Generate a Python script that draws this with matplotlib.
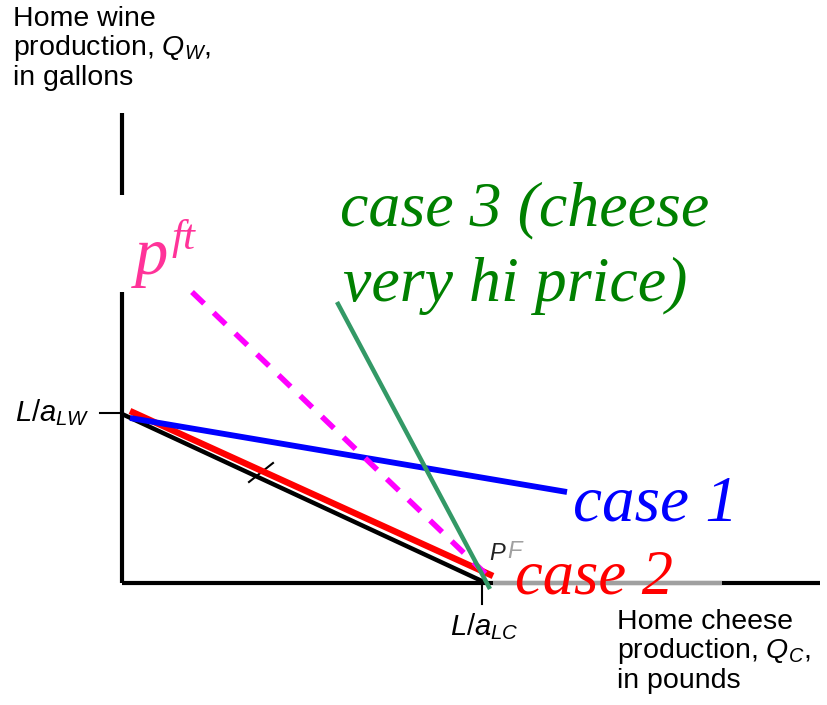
import matplotlib
matplotlib.use("Agg")
import matplotlib.pyplot as plt

plt.rcParams['mathtext.fontset'] = 'custom'
plt.rcParams['mathtext.it'] = 'Liberation Sans:italic'
plt.rcParams['mathtext.rm'] = 'Liberation Sans'

# Diagram geometry (pixel-like units, origin top-left)
yaxis_x = [122, 122]
yaxis_top = [113, 195]
yaxis_low = [292, 583]
xaxis_x = [122, 820]
xaxis_y = [583, 583]
gray_x = [493, 722]
lw_tick_x = [100, 122]
lw_tick_y = [413, 413]
lc_tick_x = [482, 482]
lc_tick_y = [583, 604]

ppf_x = [122, 484]
ppf_y = [414, 582]
case1_x = [130, 567]
case1_y = [418, 492]
case2_x = [130, 493]
case2_y = [411, 576]
pft_x = [192, 490]
pft_y = [292, 578]
case3_x = [337, 490]
case3_y = [302, 589]
mark_x = [249, 273]
mark_y = [482, 463]

fig = plt.figure(figsize=(8.27, 7.05), dpi=100)
ax = fig.add_axes([0, 0, 1, 1])
ax.set_xlim(0, 827)
ax.set_ylim(705, 0)
ax.axis('off')

# axes
ax.plot(yaxis_x, yaxis_top, color='black', lw=3, solid_capstyle='butt')
ax.plot(yaxis_x, yaxis_low, color='black', lw=3, solid_capstyle='butt')
ax.plot(xaxis_x, xaxis_y, color='black', lw=3, solid_capstyle='butt')
ax.plot(gray_x, xaxis_y, color='#a0a0a0', lw=3, solid_capstyle='butt')
ax.plot(lw_tick_x, lw_tick_y, color='black', lw=1.5)
ax.plot(lc_tick_x, lc_tick_y, color='black', lw=1.5)

# lines
ax.plot(ppf_x, ppf_y, color='black', lw=3.2, solid_capstyle='butt')
ax.plot(mark_x, mark_y, color='black', lw=1.5)
ax.plot(case2_x, case2_y, color='#ff0000', lw=4.6, solid_capstyle='butt')
ax.plot(case1_x, case1_y, color='#0000ff', lw=4.2, solid_capstyle='butt')
ax.plot(pft_x, pft_y, color='#ff00ff', lw=4.0, ls=(0, (3, 2.4)), dash_capstyle='butt')
ax.plot(case3_x, case3_y, color='#339966', lw=3.2, solid_capstyle='butt')

# labels
sans = 'Liberation Sans'
serif = 'Liberation Serif'
ax.text(13, 6, 'Home wine\nproduction, $Q_W$,\nin gallons', family=sans, fontsize=20.5,
        va='top', ha='left', linespacing=1.06)
ax.text(15, 413, '$L/a_{LW}$', family=sans, fontsize=21, va='center', ha='left')
ax.text(450, 627, '$L/a_{LC}$', family=sans, fontsize=21, va='center', ha='left')
ax.text(617, 609, 'Home cheese\nproduction, $Q_C$,\nin pounds', family=sans, fontsize=20.5,
        va='top', ha='left', linespacing=1.06)
ax.text(489, 553, 'P', family=sans, style='italic', fontsize=17, color='#222222', va='center')
ax.text(507, 551, 'F', family=sans, style='italic', fontsize=17, color='#a0a0a0', va='center')

ax.text(573, 505, 'case 1', family=serif, style='italic', fontsize=47, color='#0000ff', va='center')
ax.text(515, 579, 'case 2', family=serif, style='italic', fontsize=45, color='#ff0000', va='center')
ax.text(340, 210, 'case 3 (cheese', family=serif, style='italic', fontsize=46,
        color='#008000', va='center')
ax.text(343, 286, 'very hi price)', family=serif, style='italic', fontsize=46,
        color='#008000', va='center')
ax.text(135, 258, 'p', family=serif, style='italic', fontsize=48, color='#ff3399', va='center')
ax.text(172, 238, 'ft', family=serif, style='italic', fontsize=31, color='#ff3399', va='center')

fig.savefig('out.png', dpi=100)
